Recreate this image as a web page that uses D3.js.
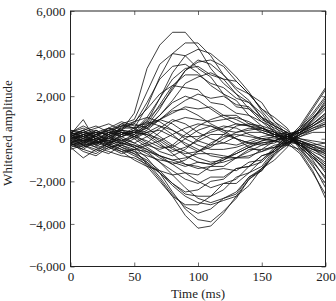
<!DOCTYPE html>
<html>
<head>
<meta charset="utf-8">
<script src="https://cdn.jsdelivr.net/npm/d3@7"></script>
<style>
  body { margin: 0; background: #fff; }
  svg text { font-family: "Liberation Serif", "DejaVu Serif", serif; fill: #222; }
</style>
</head>
<body>
<div id="chart"></div>
<script>
const times = [0, 10, 20, 30, 40, 50, 60, 70, 80, 90, 100, 110, 120, 130, 140, 150, 160, 170, 180, 190, 200];

// traces with a positive bump around 80-120 ms
const posTraces = [
  [200, 900, -100, 300, 400, 1200, 3300, 4400, 5000, 5000, 4300, 3300, 2600, 2100, 1400, 1000, 600, 300, -500, -1300, -2100],
  [-100, 200, 300, -200, 600, 500, 1500, 2900, 4000, 4500, 4500, 3900, 3000, 2300, 1800, 1000, 300, -200, -700, -1600, -2600],
  [300, 100, -300, 200, 700, 900, 2200, 3500, 4000, 3900, 3300, 2900, 2100, 1800, 1100, 800, 500, 200, -400, -900, -1500],
  [0, -300, 200, 400, 200, 300, 800, 1900, 3100, 3900, 4200, 4000, 3500, 2900, 2200, 1300, 600, -100, -600, -1500, -2800],
  [400, 300, 100, 500, 300, 100, 600, 1400, 2400, 3200, 3600, 3700, 3400, 2700, 2100, 1400, 800, 400, -300, -1000, -1900],
  [-200, 0, 400, 100, 500, 700, 1700, 2800, 3400, 3500, 3100, 2500, 2100, 1500, 1400, 800, 300, 0, -200, -700, -1200],
  [100, 400, 0, -100, 300, 200, 700, 1600, 2500, 3000, 3000, 2600, 2400, 1900, 1700, 1200, 400, -300, -500, -1100, -1800],
  [-300, -100, 200, 300, 600, 800, 1400, 2100, 2500, 2400, 2300, 1700, 1600, 1200, 1100, 600, 400, 100, -300, -600, -900],
  [200, -200, -400, 100, 400, 300, 500, 900, 1400, 1800, 2100, 1900, 2000, 1600, 1500, 900, 600, 300, -300, -800, -1300],
  [0, 300, 200, 500, 800, 600, 700, 900, 1200, 1500, 1400, 1500, 1100, 1100, 700, 600, 100, -200, -200, -500, -700],
  [-100, 200, 100, -300, 100, 400, 900, 1500, 2300, 3200, 3700, 3500, 3000, 2400, 2100, 1400, 1000, 500, -400, -1200, -2300],
  [300, 600, 300, 200, 500, 500, 600, 1100, 1800, 2600, 2900, 3100, 2800, 2700, 2100, 1700, 800, 200, -200, -800, -1600],
  [100, -100, 0, 300, 200, 400, 1000, 1900, 2800, 3300, 3400, 3000, 2800, 2100, 1700, 1000, 700, 100, -100, -400, -1000]
];

// traces with a negative dip around 90-120 ms
const negTraces = [
  [-200, -500, -100, 200, -300, -500, -1200, -1900, -2700, -3600, -4200, -4100, -3500, -2700, -2200, -1400, -1000, -400, 500, 1400, 2300],
  [100, -300, -600, -200, 0, -400, -900, -1600, -2500, -3300, -3800, -3900, -3400, -2800, -1900, -1400, -600, 100, 400, 1000, 1600],
  [-400, -900, -500, -700, -300, -600, -1100, -1800, -2600, -3200, -3500, -3300, -2800, -2500, -1800, -1500, -700, -300, 300, 900, 1800],
  [300, 0, -300, 100, -400, -700, -1300, -2000, -2700, -3100, -3100, -2700, -2400, -1800, -1600, -1000, -500, 0, 600, 1500, 2400],
  [0, -200, 200, -100, -200, -300, -600, -1100, -1700, -2300, -2800, -3000, -2800, -2600, -1800, -1400, -800, -200, 200, 600, 1000],
  [-300, -100, -400, -600, -800, -900, -1200, -1600, -2100, -2600, -2700, -2700, -2100, -1900, -1300, -1100, -500, 200, 400, 1100, 1900],
  [200, 400, 100, -300, -500, -700, -1000, -1500, -2100, -2500, -2400, -2000, -1900, -1400, -1300, -800, -600, -100, 500, 1200, 2000],
  [-100, -400, -200, 0, -100, -300, -500, -800, -1200, -1600, -2000, -2300, -2100, -2100, -1600, -1300, -500, 0, 300, 700, 1200],
  [100, -100, -300, -500, -200, -400, -700, -1100, -1500, -1900, -2100, -1800, -1800, -1400, -1300, -800, -600, -200, 300, 800, 1400],
  [-200, -600, -800, -400, -600, -1000, -1300, -1500, -1700, -1600, -1700, -1300, -1300, -900, -900, -500, -400, 100, 400, 900, 1500],
  [0, 200, -100, -300, -600, -500, -600, -800, -1000, -1200, -1300, -1500, -1400, -1500, -1100, -1000, -400, -300, 200, 500, 800],
  [300, 100, -200, -100, -400, -600, -800, -1000, -1100, -1300, -1100, -1200, -900, -900, -500, -500, -100, 200, 400, 700, 1100],
  [-300, -200, 0, -200, -500, -800, -1100, -1600, -2200, -2700, -3000, -3100, -2900, -2700, -1900, -1500, -700, -100, 200, 900, 1700]
];

// small-amplitude traces
const flatTraces = [
  [100, 300, 0, -200, 200, 500, 800, 600, 200, -300, -600, -400, 0, 300, 500, 400, 200, 0, -300, -700, -1100],
  [-200, -400, -100, 300, 100, -200, -500, -900, -1200, -1000, -600, -200, 100, 200, 100, 0, -100, 100, 300, 600, 900],
  [0, 100, 300, 200, -100, 100, 400, 900, 1300, 1400, 1100, 700, 400, 300, 400, 500, 300, 200, -100, -300, -600],
  [400, 200, -200, -400, -300, 0, 300, 400, 100, -200, -500, -800, -900, -700, -400, -200, -100, -200, 200, 500, 700],
  [-300, -500, -700, -300, 200, 400, 300, -100, -500, -700, -600, -300, 200, 600, 700, 500, 200, 100, -200, -400, -500],
  [200, -100, 100, 400, 600, 700, 500, 100, -300, -600, -900, -1100, -1000, -700, -400, -100, 100, 300, -400, -900, -1400],
  [-100, 200, 400, 100, -200, -400, -200, 300, 800, 1000, 900, 800, 900, 1000, 800, 500, 200, -100, -200, -500, -800],
  [300, 500, 200, 0, 300, 200, -200, -600, -800, -500, 0, 400, 600, 500, 200, 0, -100, -300, 100, 400, 700],
  [-400, -200, 0, -100, 100, 300, 200, -200, -700, -1200, -1400, -1300, -1000, -600, -300, -100, 0, 0, 500, 1000, 1500],
  [0, -300, -500, -200, 0, -200, 100, 500, 900, 700, 300, 0, -200, -300, -100, 100, 200, 300, 0, -200, -400],
  [200, 0, -200, 200, 400, 100, -300, -500, -300, 200, 600, 900, 1100, 900, 600, 300, 100, 200, -300, -800, -1300],
  [-200, 100, 300, 500, 300, 0, -400, -800, -1000, -900, -700, -700, -800, -900, -800, -600, -300, -200, 100, 300, 300],
  [100, 400, 600, 300, 100, 300, 600, 900, 700, 300, -100, -300, -200, 100, 300, 300, 100, -100, -300, -500, -600],
  [-500, -300, -100, -400, -700, -500, -300, -100, 200, 500, 700, 600, 300, 0, -200, -300, -200, 100, 300, 700, 1200],
  [0, -100, 100, 0, 400, 800, 1000, 800, 400, 0, -300, -500, -500, -400, -200, 0, 100, 100, -200, -300, -200],
  [300, 100, -100, -300, -100, 200, 500, 1100, 1700, 2000, 1800, 1400, 1000, 700, 600, 500, 300, 0, -100, -400, -700],
  [-100, -300, -200, 100, 300, 100, -100, -400, -400, 0, 400, 600, 400, 0, -400, -600, -400, -200, 200, 400, 600],
  [200, 300, 500, 700, 400, 300, 200, 0, -400, -800, -1100, -1200, -1100, -900, -600, -300, -100, 200, 300, 600, 1000],
  [0, 200, -100, -400, -200, 100, 300, 600, 400, 100, 100, 300, 500, 700, 600, 400, 200, 0, 0, -100, -200],
  [-200, 0, 200, 400, 700, 500, 100, -300, -600, -400, -100, 200, 200, 0, -200, -200, -100, 100, -100, -300, -500]
];

const xTicks = [0, 50, 100, 150, 200];
const yTicks = [-6000, -4000, -2000, 0, 2000, 4000, 6000];

const W = 336, H = 301;
const margin = { top: 11, right: 10.5, bottom: 34.5, left: 70.5 };

const svg = d3.select("#chart").append("svg")
  .attr("width", W)
  .attr("height", H);

const x = d3.scaleLinear().domain([0, 200]).range([margin.left, W - margin.right]);
const y = d3.scaleLinear().domain([-6000, 6000]).range([H - margin.bottom, margin.top]);

const allTraces = [...posTraces, ...negTraces, ...flatTraces];

svg.append("clipPath").attr("id", "plotclip")
  .append("rect")
  .attr("x", margin.left).attr("y", margin.top)
  .attr("width", W - margin.left - margin.right)
  .attr("height", H - margin.top - margin.bottom);

const line = d3.line()
  .x((d, i) => x(times[i]))
  .y(d => y(d));

svg.append("g")
  .attr("clip-path", "url(#plotclip)")
  .selectAll("path")
  .data(allTraces)
  .join("path")
  .attr("d", line)
  .attr("fill", "none")
  .attr("stroke", "#111")
  .attr("stroke-opacity", 0.9)
  .attr("stroke-width", 0.9);

const fmt = d3.format(",");
const tickLen = 4;

// ticks on all four sides, pointing inward
const xBottom = svg.append("g")
  .attr("transform", `translate(0,${H - margin.bottom})`)
  .call(d3.axisBottom(x).tickValues(xTicks).tickSize(-tickLen).tickPadding(5).tickFormat(d3.format("d")));
const xTop = svg.append("g")
  .attr("transform", `translate(0,${margin.top})`)
  .call(d3.axisTop(x).tickValues(xTicks).tickSize(-tickLen).tickFormat(""));
const yLeft = svg.append("g")
  .attr("transform", `translate(${margin.left},0)`)
  .call(d3.axisLeft(y).tickValues(yTicks).tickSize(-tickLen).tickPadding(5).tickFormat(fmt));
const yRight = svg.append("g")
  .attr("transform", `translate(${W - margin.right},0)`)
  .call(d3.axisRight(y).tickValues(yTicks).tickSize(-tickLen).tickFormat(""));

[xBottom, xTop, yLeft, yRight].forEach(g => {
  g.select(".domain").remove();
  g.selectAll(".tick line").attr("stroke", "#444").attr("stroke-width", 0.8);
  g.selectAll("text").style("font-size", "13px").attr("fill", "#222");
});

// frame
svg.append("rect")
  .attr("x", margin.left).attr("y", margin.top)
  .attr("width", W - margin.left - margin.right)
  .attr("height", H - margin.top - margin.bottom)
  .attr("fill", "none")
  .attr("stroke", "#222")
  .attr("stroke-width", 1);

svg.append("text")
  .attr("x", (margin.left + W - margin.right) / 2)
  .attr("y", 298)
  .attr("text-anchor", "middle")
  .style("font-size", "13px")
  .text("Time (ms)");

svg.append("text")
  .attr("transform", `translate(12,133) rotate(-90)`)
  .attr("text-anchor", "middle")
  .style("font-size", "13px")
  .text("Whitened amplitude");
</script>
</body>
</html>
